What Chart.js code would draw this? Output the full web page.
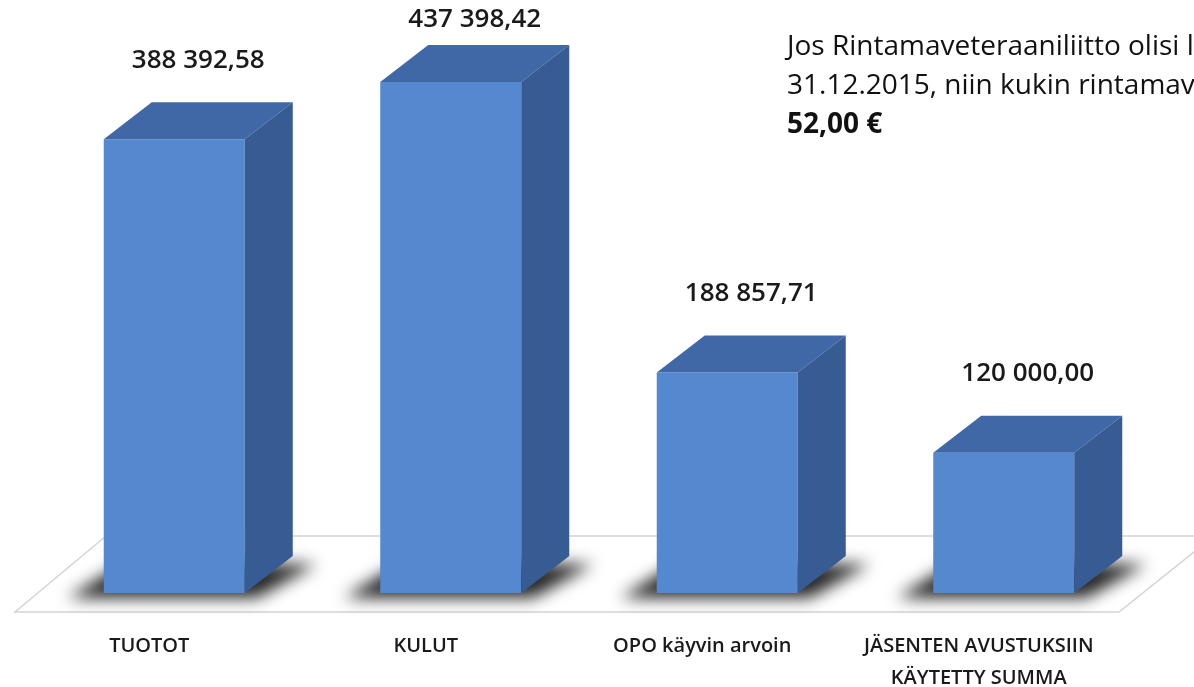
<!DOCTYPE html>
<html>
<head>
<meta charset="utf-8">
<script src="https://cdn.jsdelivr.net/npm/chart.js@4"></script>
<style>
    html, body { margin: 0; padding: 0; background: #ffffff; overflow: hidden; }
    #wrap { width: 1194px; height: 687px; }
</style>
</head>
<body>
<div id="wrap"><canvas id="barChart" width="1194" height="687"></canvas></div>
<script>
const categories = [['TUOTOT'], ['KULUT'], ['OPO käyvin arvoin'], ['JÄSENTEN AVUSTUKSIIN', 'KÄYTETTY SUMMA']];
const values = [388392.58, 437398.42, 188857.71, 120000.00];
const valueLabels = ['388 392,58', '437 398,42', '188 857,71', '120 000,00'];
const noteLines = ['Jos Rintamaveteraaniliitto olisi lakkautettu', '31.12.2015, niin kukin rintamaveteraani olisi saanut'];
const noteAmount = '52,00 €';

document.addEventListener("DOMContentLoaded", function () {
    const depthX = 48;
    const depthY = -37;
    const frontColor = '#5488cf';
    const topColor = '#4068a6';
    const sideColor = '#375b93';
    const textFont = '"Open Sans", "Noto Sans", sans-serif';

    // floor + shadows, drawn under the bars
    const floorPlugin = {
        id: 'floor',
        beforeDatasetsDraw(chart) {
            const ctx = chart.ctx;
            const area = chart.chartArea;
            const meta = chart.getDatasetMeta(0);

            ctx.save();
            ctx.strokeStyle = '#d4d4d4';
            ctx.lineWidth = 1.5;
            ctx.beginPath();
            ctx.moveTo(area.left + 70, area.bottom - 57);
            ctx.lineTo(chart.width + 10, area.bottom - 57);
            ctx.moveTo(area.left + 70, area.bottom - 57);
            ctx.lineTo(area.left - 21, area.bottom + 19);
            ctx.lineTo(area.right - 23, area.bottom + 19);
            ctx.lineTo(area.right + 72, area.bottom - 57);
            ctx.stroke();
            ctx.restore();

            meta.data.forEach(bar => {
                const left = bar.x - bar.width / 2;
                const right = bar.x + bar.width / 2;
                const b = bar.base;
                ctx.save();
                ctx.filter = 'blur(8px)';
                ctx.fillStyle = 'rgba(0, 0, 0, 0.85)';
                ctx.beginPath();
                ctx.moveTo(left - 36, b + 5);
                ctx.lineTo(right + 12, b + 5);
                ctx.lineTo(right + depthX + 24, b + depthY + 8);
                ctx.lineTo(left + depthX - 30, b + depthY + 8);
                ctx.closePath();
                ctx.fill();
                ctx.restore();
            });
        }
    };

    // top and side faces, value labels, category labels, note text
    const facesPlugin = {
        id: 'faces',
        afterDatasetsDraw(chart) {
            const ctx = chart.ctx;
            const meta = chart.getDatasetMeta(0);

            meta.data.forEach((bar, i) => {
                const left = bar.x - bar.width / 2;
                const right = bar.x + bar.width / 2;
                const top = bar.y;
                const b = bar.base;

                ctx.save();
                ctx.fillStyle = topColor;
                ctx.beginPath();
                ctx.moveTo(left, top);
                ctx.lineTo(left + depthX, top + depthY);
                ctx.lineTo(right + depthX, top + depthY);
                ctx.lineTo(right, top);
                ctx.closePath();
                ctx.fill();

                ctx.fillStyle = sideColor;
                ctx.beginPath();
                ctx.moveTo(right, top);
                ctx.lineTo(right + depthX, top + depthY);
                ctx.lineTo(right + depthX, b + depthY);
                ctx.lineTo(right, b);
                ctx.closePath();
                ctx.fill();

                ctx.fillStyle = '#1a1a1a';
                ctx.font = '600 26px ' + textFont;
                ctx.textAlign = 'center';
                ctx.textBaseline = 'middle';
                ctx.fillText(valueLabels[i], bar.x + depthX / 2, Math.max(20, top + depthY - 42));

                ctx.font = '600 20px ' + textFont;
                categories[i].forEach((line, j) => {
                    ctx.fillText(line, bar.x - 25, b + 53 + j * 32);
                });
                ctx.restore();
            });

            ctx.save();
            ctx.fillStyle = '#111111';
            ctx.textAlign = 'left';
            ctx.textBaseline = 'alphabetic';
            ctx.font = '28px ' + textFont;
            noteLines.forEach((line, j) => {
                ctx.fillText(line, 787, 55 + j * 39);
            });
            ctx.font = 'bold 28px ' + textFont;
            ctx.fillText(noteAmount, 787, 133);
            ctx.restore();
        }
    };

    const ctx = document.getElementById('barChart').getContext('2d');
    new Chart(ctx, {
        type: 'bar',
        data: {
            labels: categories,
            datasets: [{
                data: values,
                backgroundColor: frontColor,
                borderWidth: 0,
                barPercentage: 0.51,
                categoryPercentage: 1
            }]
        },
        options: {
            responsive: false,
            animation: false,
            layout: {
                padding: { left: 36, right: 52, top: 0, bottom: 94 }
            },
            scales: {
                x: { display: false },
                y: { display: false, min: 0, max: 507700 }
            },
            plugins: {
                legend: { display: false },
                tooltip: { enabled: false }
            }
        },
        plugins: [floorPlugin, facesPlugin]
    });
});
</script>
</body>
</html>
